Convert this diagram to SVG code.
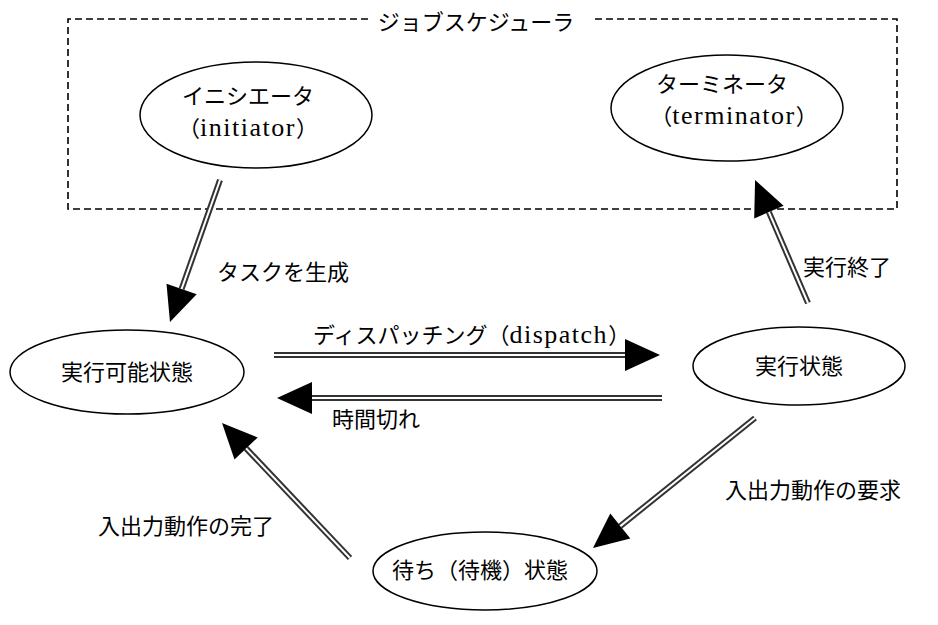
<svg xmlns="http://www.w3.org/2000/svg" width="938" height="625" viewBox="0 0 938 625">
<defs>
<marker id="head" markerUnits="userSpaceOnUse" markerWidth="36" markerHeight="34" refX="0" refY="16" orient="auto" overflow="visible">
<path d="M0,0 L35,16 L0,32 Z" fill="#000"/>
</marker>
<style>
text{font-family:"Noto Sans CJK JP","Noto Sans CJK SC",sans-serif;font-size:22px;fill:#000}
.lat{font-family:"Liberation Serif",serif;font-size:26px;letter-spacing:1.5px}
.node{fill:#fff;stroke:#000;stroke-width:1.5}
.outer{fill:none;stroke:#333;stroke-width:6;marker-end:url(#head)}
.inner{fill:none;stroke:#fff;stroke-width:2}
.box{fill:none;stroke:#000;stroke-width:1.6;stroke-dasharray:7 4}
</style>
</defs>
<rect width="938" height="625" fill="#fff"/>
<g id="scheduler">
<path class="box" d="M368,19 H68 V209 H897 V19 H594"/>
<text x="476" y="30" text-anchor="middle" font-size="20">ジョブスケジューラ</text>
</g>
<g id="initiator">
<ellipse class="node" cx="256" cy="115" rx="116" ry="53"/>
<text text-anchor="middle" font-size="21"><tspan x="248" y="104">イニシエータ</tspan><tspan x="248" y="136">（<tspan class="lat">initiator</tspan>）</tspan></text>
</g>
<g id="terminator">
<ellipse class="node" cx="727" cy="108" rx="116" ry="53"/>
<text text-anchor="middle" font-size="21"><tspan x="722" y="92">ターミネータ</tspan><tspan x="734" y="124">（<tspan class="lat">terminator</tspan>）</tspan></text>
</g>
<g id="ready">
<ellipse class="node" cx="127" cy="372" rx="117" ry="42"/>
<text x="127" y="380" text-anchor="middle">実行可能状態</text>
</g>
<g id="running">
<ellipse class="node" cx="799" cy="366" rx="106" ry="39"/>
<text x="799" y="374" text-anchor="middle">実行状態</text>
</g>
<g id="waiting">
<ellipse class="node" cx="485" cy="571" rx="112" ry="39"/>
<text x="480" y="578" text-anchor="middle" font-size="20.5">待ち（待機）状態</text>
</g>
<g id="connectors">
<path class="outer" d="M220,180 L181.6,289"/><path class="inner" d="M220,180 L181.6,289"/>
<path class="outer" d="M808,303 L768.9,212.1"/><path class="inner" d="M808,303 L768.9,212.1"/>
<path class="outer" d="M274,355 L625,355"/><path class="inner" d="M274,355 L625,355"/>
<path class="outer" d="M662,398 L312,398"/><path class="inner" d="M662,398 L312,398"/>
<path class="outer" d="M755,418 L620.3,526.1"/><path class="inner" d="M755,418 L620.3,526.1"/>
<path class="outer" d="M350,558 L246.1,448.4"/><path class="inner" d="M350,558 L246.1,448.4"/>
<text x="217" y="280" font-size="20">タスクを生成</text>
<text x="803" y="275">実行終了</text>
<text x="313" y="343" font-size="20">ディスパッチング（<tspan class="lat" font-size="25" letter-spacing="0.5">dispatch</tspan>）</text>
<text x="332" y="427">時間切れ</text>
<text x="725" y="498">入出力動作の要求</text>
<text x="98" y="534">入出力動作の完了</text>
</g>
</svg>
